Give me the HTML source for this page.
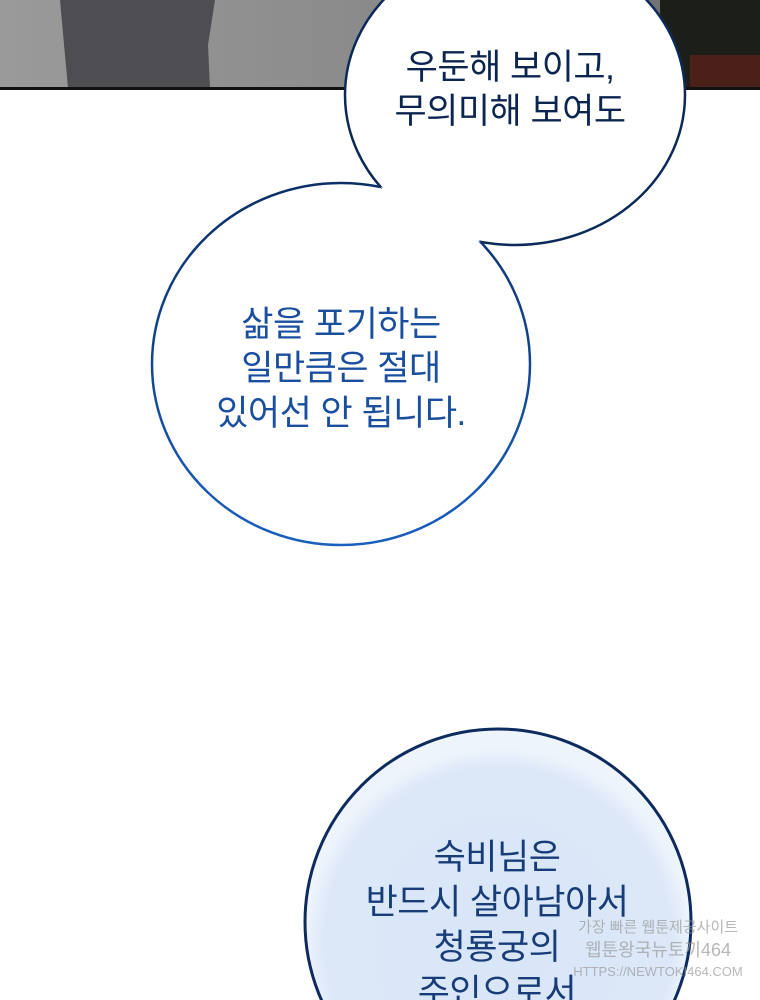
<!DOCTYPE html>
<html><head><meta charset="utf-8"><style>
html,body{margin:0;padding:0;background:#fff;width:760px;height:1000px;overflow:hidden}
svg{display:block}
text{font-family:"Liberation Sans","Noto Sans CJK KR",sans-serif;font-size:35px;text-anchor:middle;letter-spacing:-0.5px}
</style></head><body>
<svg width="760" height="1000" viewBox="0 0 760 1000" xmlns="http://www.w3.org/2000/svg">
<defs>
<linearGradient id="g2" x1="0" y1="0" x2="0" y2="1">
<stop offset="0" stop-color="#0b2f66"/><stop offset="1" stop-color="#1a5fbf"/></linearGradient>
<radialGradient id="g3" cx="0.5" cy="0.55" r="0.5">
<stop offset="0" stop-color="#d8e6f8"/><stop offset="0.9" stop-color="#dce8f8"/><stop offset="1" stop-color="#eef4fc"/></radialGradient>
<linearGradient id="gp" x1="0" y1="0" x2="1" y2="0">
<stop offset="0" stop-color="#9a9a9a"/><stop offset="0.5" stop-color="#8a8a8a"/><stop offset="1" stop-color="#6a6a6a"/></linearGradient>
<mask id="m1"><rect width="760" height="1000" fill="#fff"/><ellipse cx="341" cy="364" rx="189" ry="181" fill="#000"/></mask>
<mask id="m2"><rect width="760" height="1000" fill="#fff"/><ellipse cx="515" cy="95" rx="170" ry="150" fill="#000"/></mask>
</defs>
<rect x="0" y="0" width="760" height="88" fill="url(#gp)"/>
<path d="M60 0 L215 0 L208 45 L210 88 L68 88 Z" fill="#4e4e52"/>
<rect x="660" y="0" width="100" height="88" fill="#1c1e1a"/>
<rect x="690" y="55" width="70" height="33" fill="#4a2018"/>
<rect x="0" y="87" width="760" height="3" fill="#111"/>
<ellipse cx="515" cy="95" rx="170" ry="150" fill="#fff"/>
<ellipse cx="341" cy="364" rx="189" ry="181" fill="#fff"/>
<path d="M385 188 L430 215 L479 241 Z" fill="#fff"/>
<ellipse cx="515" cy="95" rx="170" ry="150" fill="none" stroke="#0b2a5a" stroke-width="2.5" mask="url(#m1)"/>
<ellipse cx="341" cy="364" rx="189" ry="181" fill="none" stroke="url(#g2)" stroke-width="2.5" mask="url(#m2)"/>
<text x="510" y="79" fill="#0b2550">우둔해 보이고,</text>
<text x="510" y="123" fill="#0b2550">무의미해 보여도</text>
<text x="341" y="336" fill="#1a4fa0">삶을 포기하는</text>
<text x="341" y="380" fill="#1a4fa0">일만큼은 절대</text>
<text x="341" y="425" fill="#1a4fa0">있어선 안 됩니다.</text>
<circle cx="498" cy="922" r="193" fill="url(#g3)" stroke="#0d2b5e" stroke-width="3"/>
<text x="497" y="869" fill="#173c78">숙비님은</text>
<text x="497" y="914" fill="#173c78">반드시 살아남아서</text>
<text x="497" y="959" fill="#173c78">청룡궁의</text>
<text x="497" y="1004" fill="#173c78">주인으로서</text>
<g fill="#9a9a9a" opacity="0.7">
<text x="658" y="932" style="font-size:15px;letter-spacing:0">가장 빠른 웹툰제공사이트</text>
<text x="658" y="956" style="font-size:18px;letter-spacing:0">웹툰왕국뉴토끼464</text>
<text x="658" y="976" style="font-size:13px;letter-spacing:0">HTTPS://NEWTOKI464.COM</text>
</g>
</svg>
</body></html>
